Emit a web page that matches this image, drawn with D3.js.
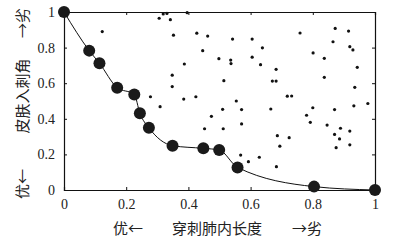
<!DOCTYPE html>
<html><head><meta charset="utf-8">
<script src="https://cdn.jsdelivr.net/npm/d3@7"></script>
<style>html,body{margin:0;padding:0;background:#fff;}svg{display:block;}</style>
</head><body>
<svg id="c" width="394" height="241"></svg>
<script>
// Pareto front (large dots)
const paretoX = [0, 0.081, 0.114, 0.171, 0.226, 0.244, 0.273, 0.349, 0.448, 0.499, 0.558, 0.804, 1.0];
const paretoY = [1, 0.783, 0.712, 0.575, 0.537, 0.431, 0.350, 0.249, 0.234, 0.225, 0.127, 0.019, 0];
// Other solutions (small dots)
const otherX = [0.123,0.306,0.319,0.331,0.342,0.396,0.352,0.387,0.348,0.348,0.278,0.385,0.424,0.309,
  0.427,0.462,0.446,0.542,0.605,0.638,0.498,0.536,0.537,0.605,0.632,0.682,0.514,0.670,0.682,0.718,0.732,
  0.759,0.801,0.872,0.865,0.915,0.919,0.929,0.837,0.943,0.837,0.935,0.554,0.510,0.571,0.665,0.474,0.780,
  0.800,0.870,0.932,0.977,0.452,0.512,0.571,0.686,0.724,0.694,0.568,0.593,0.628,0.683,0.792,0.846,0.889,
  0.919,0.870,0.886,0.875,0.919];
const otherY = [0.890,0.965,0.989,0.992,0.957,0.996,0.870,0.708,0.645,0.581,0.524,0.511,0.524,0.468,
  0.881,0.865,0.783,0.848,0.848,0.799,0.738,0.730,0.710,0.746,0.704,0.678,0.614,0.612,0.612,0.527,0.528,
  0.882,0.770,0.908,0.833,0.893,0.805,0.787,0.740,0.689,0.633,0.577,0.500,0.453,0.452,0.455,0.414,0.420,
  0.462,0.452,0.473,0.486,0.344,0.344,0.371,0.305,0.294,0.246,0.196,0.159,0.184,0.131,0.380,0.365,0.347,
  0.331,0.312,0.287,0.238,0.254];
const xTicks = [0, 0.2, 0.4, 0.6, 0.8, 1];
const yTicks = [0, 0.2, 0.4, 0.6, 0.8, 1];
const xLabelParts = ["优←", "穿刺肺内长度", "→劣"];
const yLabelParts = ["优←", "皮肤入刺角", "→劣"];

const svg = d3.select("#c");
const L = 64, R = 375, T = 12, B = 190;
const x = d3.scaleLinear().domain([0, 1]).range([L, R]);
const y = d3.scaleLinear().domain([0, 1]).range([B, T]);
const numFmt = d => d === 0 || d === 1 ? String(d) : d3.format(".1f")(d);
const serif = "'Liberation Serif','Times New Roman',serif";
const cjk = "'Noto Sans CJK SC','Noto Sans',sans-serif";

// axes with inward ticks
const gB = svg.append("g").attr("transform", `translate(0,${B})`)
  .call(d3.axisBottom(x).tickValues(xTicks).tickSize(-3).tickPadding(9).tickFormat(numFmt));
const gT = svg.append("g").attr("transform", `translate(0,${T})`)
  .call(d3.axisTop(x).tickValues(xTicks).tickSize(-3).tickFormat(""));
const gL = svg.append("g").attr("transform", `translate(${L},0)`)
  .call(d3.axisLeft(y).tickValues(yTicks).tickSize(-3).tickPadding(9).tickFormat(numFmt));
const gR = svg.append("g").attr("transform", `translate(${R},0)`)
  .call(d3.axisRight(y).tickValues(yTicks).tickSize(-3).tickFormat(""));
[gB, gT, gL, gR].forEach(g => {
  g.select(".domain").attr("stroke", "#111").attr("stroke-width", 1.2);
  g.selectAll(".tick line").attr("stroke", "#111");
  g.selectAll("text").attr("font-family", serif).attr("font-size", 14).attr("fill", "#222");
});

// small dots
svg.append("g").selectAll("circle").data(otherX.map((v, i) => [v, otherY[i]])).join("circle")
  .attr("cx", d => x(d[0])).attr("cy", d => y(d[1])).attr("r", 1.6).attr("fill", "#111");

// pareto line
const pts = paretoX.map((v, i) => [v, paretoY[i]]);
svg.append("path").datum(pts)
  .attr("d", d3.line().x(d => x(d[0])).y(d => y(d[1])).curve(d3.curveMonotoneX))
  .attr("fill", "none").attr("stroke", "#111").attr("stroke-width", 1);
svg.append("g").selectAll("circle").data(pts).join("circle")
  .attr("cx", d => x(d[0])).attr("cy", d => y(d[1])).attr("r", 6).attr("fill", "#1a1a1a");

// x label
const xl = [[128, xLabelParts[0]], [217, xLabelParts[1]], [307, xLabelParts[2]]];
svg.append("g").selectAll("text").data(xl).join("text")
  .attr("x", d => d[0]).attr("y", 234).attr("text-anchor", "middle")
  .attr("font-family", cjk).attr("font-size", 15).attr("fill", "#222").text(d => d[1]);

// y label (rotated)
const yl = [[184, yLabelParts[0]], [96, yLabelParts[1]], [23, yLabelParts[2]]];
svg.append("g").selectAll("text").data(yl).join("text")
  .attr("transform", d => `translate(28,${d[0]}) rotate(-90)`)
  .attr("text-anchor", "middle")
  .attr("font-family", cjk).attr("font-size", 15).attr("fill", "#222").text(d => d[1]);
</script>
</body></html>
